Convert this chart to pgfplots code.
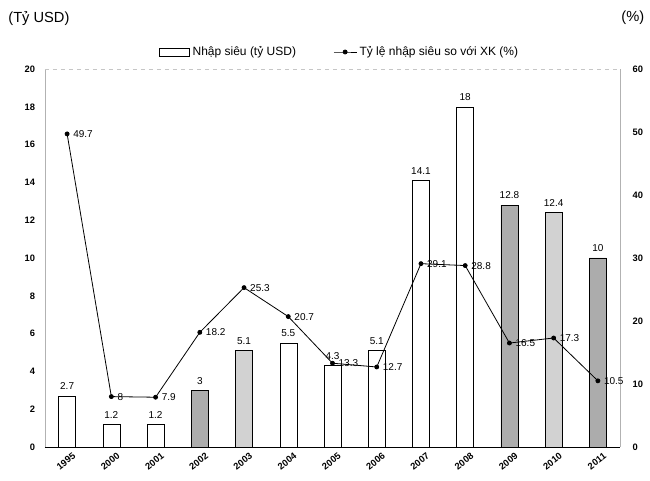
\documentclass[border=0pt]{standalone}
\usepackage{pgfplots}
\pgfplotsset{compat=1.18}
\usepackage{fontspec}
\setmainfont{Liberation Sans}

\begin{document}
\begin{tikzpicture}
\useasboundingbox (-33.75pt,-25.5pt) rectangle (453.75pt,335.25pt);
\pgfplotsset{
  every axis/.append style={
    scale only axis, width=431.25pt, height=283.5pt,
    xmin=-0.5, xmax=12.5,
    /pgf/number format/assume math mode=true,
    tick label style={font=\fontsize{7}{8}\selectfont\bfseries},
    major tick length=0pt,
  }
}
% bars: nhap sieu (ty USD)
\begin{axis}[
  ymin=0, ymax=20, ytick={0,2,...,20},
  axis y line*=left, axis x line*=bottom,
  y axis line style={gray!60},
  x axis line style={black, line width=0.6pt},
  xtick={0,...,12},
  xticklabels={1995,2000,2001,2002,2003,2004,2005,2006,2007,2008,2009,2010,2011},
  xticklabel style={rotate=38, anchor=north east, yshift=-2pt, xshift=4pt},
  yticklabel style={xshift=-4pt},
  ybar, bar width=12.75pt,
  nodes near coords, point meta=explicit symbolic,
  every node near coord/.append style={font=\fontsize{7.5}{9}\selectfont, yshift=1pt},
]
\addplot[draw=black, fill=white, bar shift=0pt] table[meta=lab] {
x y lab
0 2.7 2.7
1 1.2 1.2
2 1.2 1.2
5 5.5 5.5
6 4.3 4.3
7 5.1 5.1
8 14.1 14.1
9 18 18
};
\addplot[draw=black, fill=gray!35, bar shift=0pt] table[meta=lab] {
x y lab
4 5.1 5.1
11 12.4 12.4
};
\addplot[draw=black, fill=gray!65, bar shift=0pt] table[meta=lab] {
x y lab
3 3 3
10 12.8 12.8
12 10 10
};
\draw[gray!45, dashed] (rel axis cs:0,1) -- (rel axis cs:1,1);
\end{axis}
% line: ty le nhap sieu so voi XK (%)
\begin{axis}[
  ymin=0, ymax=60, ytick={0,10,...,60},
  axis y line*=right, axis x line=none,
  y axis line style={gray!60},
  yticklabel style={xshift=6pt},
  nodes near coords, point meta=explicit symbolic,
  every node near coord/.append style={font=\fontsize{7.5}{9}\selectfont, anchor=west, xshift=1pt},
  legend style={at={(rel axis cs:0.513,1.045)}, anchor=center, draw=none, fill=none,
    legend columns=2, font=\fontsize{9}{11}\selectfont,
    /tikz/every even column/.append style={column sep=26pt}},
]
\addlegendimage{legend image code/.code={\draw[black, fill=white] (-0.25cm,-0.1cm) rectangle (0.55cm,0.1cm);}}
\addlegendentry{Nhập siêu (tỷ USD)}
\addplot[black, line width=0.6pt, mark=*, mark size=1.5pt] table[meta=lab] {
x y lab
0 49.7 49.7
1 8 8
2 7.9 7.9
3 18.2 18.2
4 25.3 25.3
5 20.7 20.7
6 13.3 13.3
7 12.7 12.7
8 29.1 29.1
9 28.8 28.8
10 16.5 16.5
11 17.3 17.3
12 10.5 10.5
};
\addlegendentry{Tỷ lệ nhập siêu so với XK (\%)}
\end{axis}
\node[anchor=west, font=\fontsize{11}{13}\selectfont] at (-31pt,321.75pt) {(Tỷ USD)};
\node[anchor=east, font=\fontsize{11}{13}\selectfont] at (453pt,321.75pt) {(\%)};
\end{tikzpicture}
\end{document}
